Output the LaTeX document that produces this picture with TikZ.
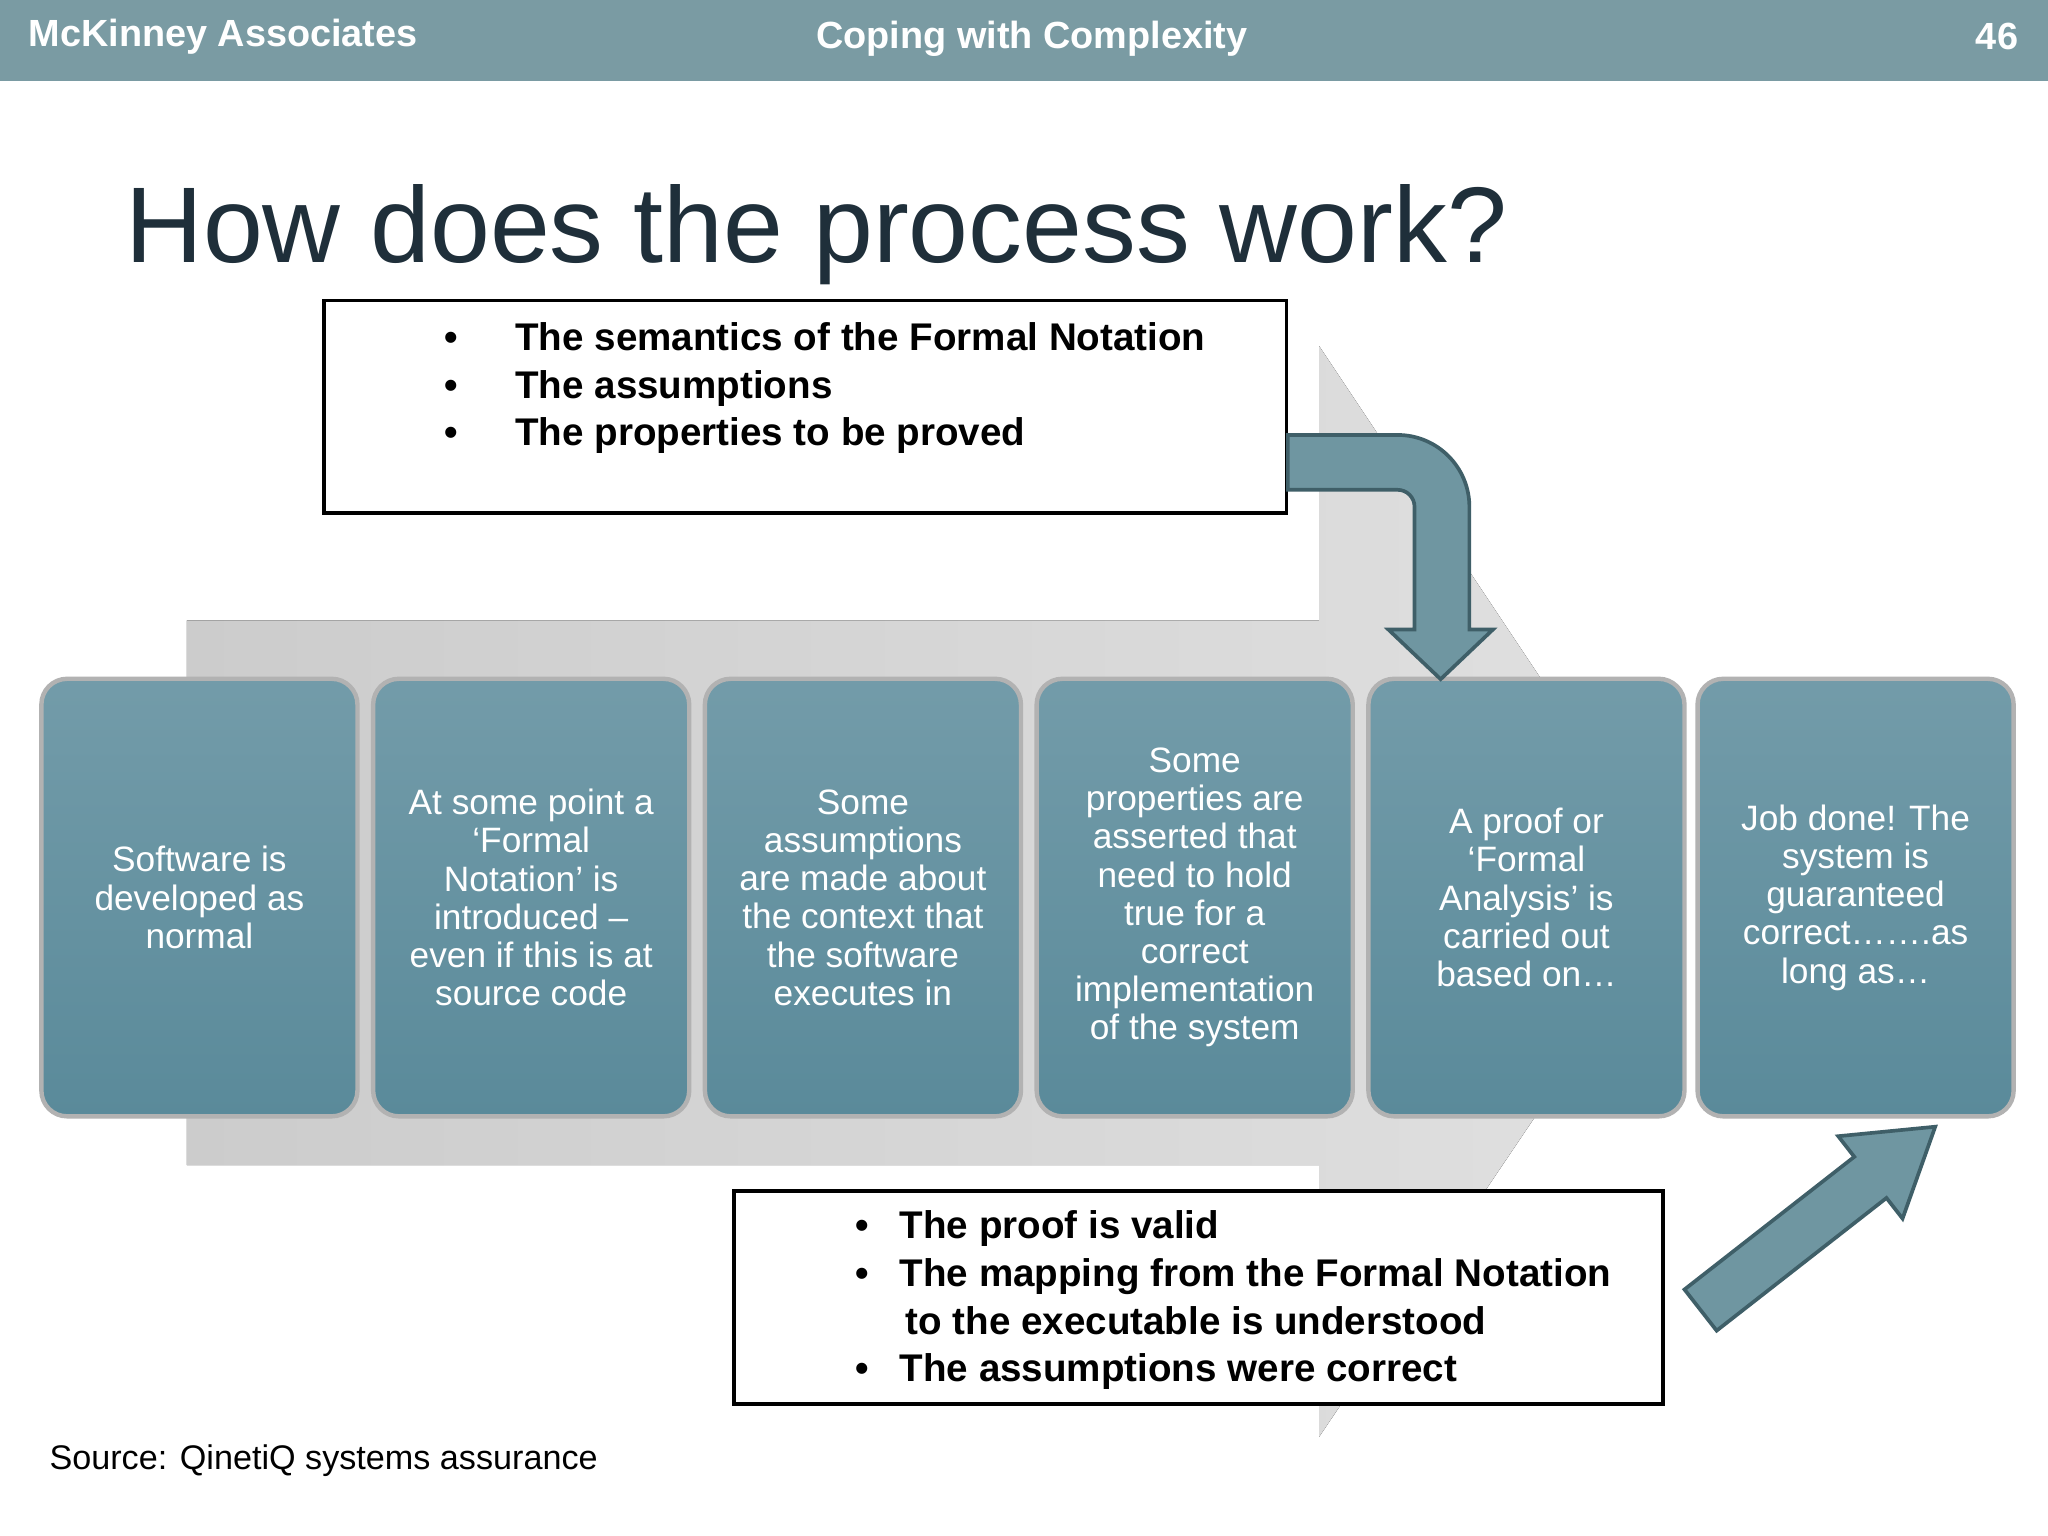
\documentclass[tikz,border=0pt]{standalone}
\usepackage{fontspec}
\setmainfont{Liberation Sans}
\begin{document}
\begin{tikzpicture}[x=0.0125cm,y=-0.0125cm,
  pstep/.style={rounded corners=7pt,draw=white!70!black,line width=1.2pt,
    top color=teal0!85!white,bottom color=teal0,minimum width=242*0.0125cm,
    minimum height=335*0.0125cm,anchor=north west,text=white,
    font=\fontsize{9.6}{10.4}\selectfont,align=center},
  arr/.style={fill=arrc,draw=arrd,line width=1pt},
  bul/.style={anchor=north west,font=\fontsize{10.5}{13}\selectfont\bfseries,align=left}]
\definecolor{teal0}{HTML}{5A8A9A}
\definecolor{hdr}{HTML}{7A9BA3}
\definecolor{arrc}{HTML}{6F96A1}
\definecolor{arrd}{HTML}{3F5F68}
\definecolor{ttl}{HTML}{1F2F3A}
\useasboundingbox (0,0) rectangle (1568,1176);
\fill[white] (0,0) rectangle (1568,1176);
\fill[hdr] (0,0) rectangle (1568,62);
\node[text=white,font=\fontsize{10.3}{13}\selectfont\bfseries,anchor=west] (h1) at (12,28) {McKinney Associates};
\node[text=white,font=\fontsize{10.3}{13}\selectfont\bfseries] (h2) at (790,30) {Coping with Complexity};
\node[text=white,font=\fontsize{10.3}{13}\selectfont\bfseries,anchor=east] (h3) at (1555,28) {46};
\node[text=ttl,font=\fontsize{29.3}{34}\selectfont,anchor=west] (title) at (86,180) {How does the process work?};
% big background arrow
\fill[left color=black!20,right color=black!12] (143,475) -- (1010,475) -- (1010,265) -- (1290,685) -- (1010,1100) -- (1010,892) -- (143,892) -- cycle;
% steps
\node[pstep] (s1) at (30,518) {Software is\\developed as\\normal};
\node[pstep] (s2) at (284,518) {At some point a\\`Formal\\Notation' is\\introduced --\\even if this is at\\source code};
\node[pstep] (s3) at (538,518) {Some\\assumptions\\are made about\\the context that\\the software\\executes in};
\node[pstep] (s4) at (792,518) {Some\\properties are\\asserted that\\need to hold\\true for a\\correct\\implementation\\of the system};
\node[pstep] (s5) at (1046,518) {A proof or\\`Formal\\Analysis' is\\carried out\\based on\ldots};
\node[pstep] (s6) at (1298,518) {Job done! The\\system is\\guaranteed\\correct\ldots\ldots.as\\long as\ldots};
% top box
\draw[fill=white,line width=1pt] (248,230) rectangle (985,393);
\node[bul] (t1) at (330,237) {\textbullet\hspace{1.5em}The semantics of the Formal Notation\\\textbullet\hspace{1.5em}The assumptions\\\textbullet\hspace{1.5em}The properties to be proved};
% curved arrow
\draw[arr] (986,333) -- (1070,333) arc[start angle=-90,end angle=0,radius=55] -- (1125,482) -- (1143,482) -- (1103,520) -- (1063,482) -- (1083,482) -- (1083,388) arc[start angle=0,end angle=-90,radius=13] -- (986,375) -- cycle;
% bottom box
\draw[fill=white,line width=1pt] (562,912) rectangle (1273,1075);
\node[bul] (b1) at (645,917) {\textbullet\hspace{0.8em}The proof is valid\\\textbullet\hspace{0.8em}The mapping from the Formal Notation\\\hspace{1.3em}to the executable is understood\\\textbullet\hspace{0.8em}The assumptions were correct};
% diagonal arrow
\begin{scope}[shift={(1302,1003)},rotate=38]
\draw[arr] (0,-20) -- (165,-20) -- (165,-40) -- (228,0) -- (165,40) -- (165,20) -- (0,20) -- cycle;
\end{scope}
\node[anchor=west,font=\fontsize{9.3}{11}\selectfont] (src) at (28,1118) {Source: QinetiQ systems assurance};
\end{tikzpicture}
\end{document}
